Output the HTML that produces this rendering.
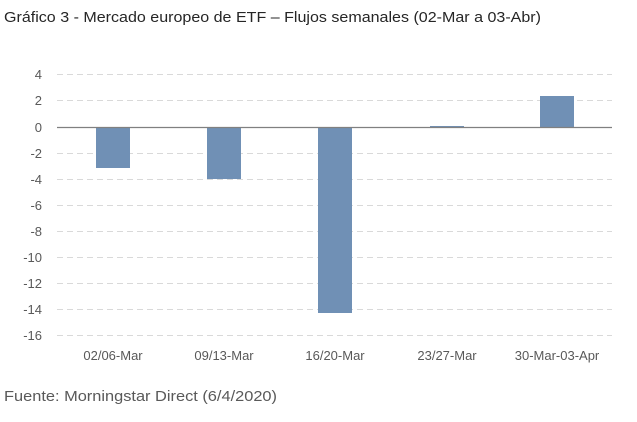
<!DOCTYPE html>
<html><head><meta charset="utf-8"><style>
body{margin:0;background:#fff;width:637px;height:417px;overflow:hidden}
</style></head><body>
<svg width="637" height="417" xmlns="http://www.w3.org/2000/svg" font-family="Liberation Sans, sans-serif">
<text x="4" y="22" font-size="15" fill="#262626" textLength="537" lengthAdjust="spacingAndGlyphs">Gráfico 3 - Mercado europeo de ETF – Flujos semanales (02-Mar a 03-Abr)</text>
<g stroke="#d9d9d9" stroke-dasharray="6,4" stroke-width="1">
<line x1="57" x2="612" y1="74.5" y2="74.5"/>
<line x1="57" x2="612" y1="100.5" y2="100.5"/>
<line x1="57" x2="612" y1="153.5" y2="153.5"/>
<line x1="57" x2="612" y1="179.5" y2="179.5"/>
<line x1="57" x2="612" y1="205.5" y2="205.5"/>
<line x1="57" x2="612" y1="231.5" y2="231.5"/>
<line x1="57" x2="612" y1="257.5" y2="257.5"/>
<line x1="57" x2="612" y1="283.5" y2="283.5"/>
<line x1="57" x2="612" y1="309.5" y2="309.5"/>
<line x1="57" x2="612" y1="335.5" y2="335.5"/>
</g>
<g fill="#7090b5">
<rect x="96" y="127.5" width="34" height="40.5"/>
<rect x="207" y="127.5" width="34" height="51.5"/>
<rect x="318" y="127.5" width="34" height="185.5"/>
<rect x="430" y="126" width="34" height="1.5"/>
<rect x="540" y="96" width="34" height="31.5"/>
</g>
<line x1="57" x2="612" y1="127.5" y2="127.5" stroke="#808080" stroke-width="1.2"/>
<g font-size="13" fill="#595959" text-anchor="end">
<text x="42" y="79">4</text><text x="42" y="105">2</text><text x="42" y="132">0</text>
<text x="42" y="158">-2</text><text x="42" y="184">-4</text><text x="42" y="210">-6</text>
<text x="42" y="236">-8</text><text x="42" y="262">-10</text><text x="42" y="288">-12</text>
<text x="42" y="314">-14</text><text x="42" y="340">-16</text>
</g>
<g font-size="13" fill="#595959" text-anchor="middle">
<text x="113" y="360">02/06-Mar</text><text x="224" y="360">09/13-Mar</text>
<text x="335" y="360">16/20-Mar</text><text x="447" y="360">23/27-Mar</text>
<text x="557" y="360">30-Mar-03-Apr</text>
</g>
<text x="4" y="401" font-size="15" fill="#595959" textLength="273" lengthAdjust="spacingAndGlyphs">Fuente: Morningstar Direct (6/4/2020)</text>
</svg>
</body></html>
